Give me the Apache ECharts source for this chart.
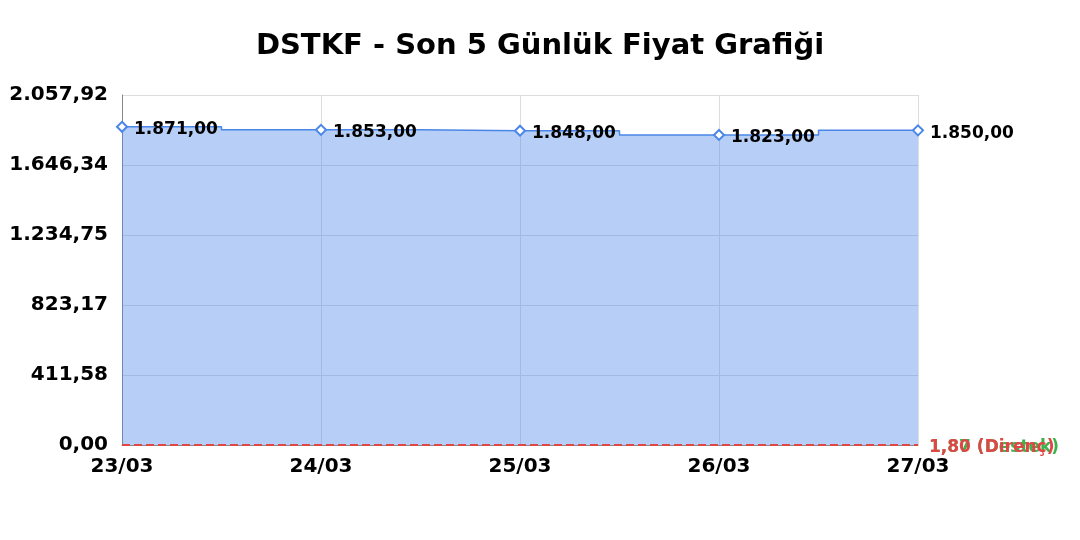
<!DOCTYPE html>
<html><head><meta charset="utf-8">
<script src="https://cdn.jsdelivr.net/npm/echarts@6/dist/echarts.min.js"></script>
<style>html,body{margin:0;padding:0;background:#fff}#c{width:1080px;height:540px}</style>
</head><body><div id="c"></div>
<script>
var categories = ['23/03','24/03','25/03','26/03','27/03'];
var prices = [1871.00, 1853.00, 1848.00, 1823.00, 1850.00];
var supportValue = 1.87;
var resistanceValue = 1.80;
var yTicks = [0, 411.584, 823.168, 1234.752, 1646.336, 2057.92];

function fmt(v){
  return Number(v).toLocaleString('tr-TR',{minimumFractionDigits:2,maximumFractionDigits:2});
}
var chart = echarts.init(document.getElementById('c'));
var FONT = 'DejaVu Sans';
chart.setOption({
  animation:false,
  title:{text:'DSTKF - Son 5 Günlük Fiyat Grafiği',left:'center',top:27,
    textStyle:{fontFamily:FONT,fontSize:29,fontWeight:'bold',color:'#000'}},
  grid:{left:122,right:162,top:95,bottom:95},
  xAxis:{type:'category',data:categories,boundaryGap:false,
    axisLine:{lineStyle:{color:'#888'}},axisTick:{show:false},
    axisLabel:{fontFamily:FONT,fontSize:20,fontWeight:'bold',color:'#000',margin:12},
    splitLine:{show:true,lineStyle:{color:'#ddd'}}},
  yAxis:{type:'value',min:0,max:yTicks[yTicks.length-1],interval:yTicks[1],
    axisLine:{show:true,lineStyle:{color:'#888'}},axisTick:{show:false},
    axisLabel:{fontFamily:FONT,fontSize:20,fontWeight:'bold',color:'#000',margin:14,formatter:fmt},
    splitLine:{show:true,lineStyle:{color:'#ddd'}}},
  series:[{type:'line',data:prices,step:'middle',
    symbol:'diamond',symbolSize:10,
    itemStyle:{color:'#fff',borderColor:'#4a86e8',borderWidth:2},
    lineStyle:{color:'#4a86e8',width:1.5},
    areaStyle:{color:'rgba(74,134,232,0.4)',opacity:1},
    label:{show:true,position:'right',distance:6,offset:[0,3],fontFamily:FONT,fontSize:17,fontWeight:'bold',color:'#000',
      formatter:function(p){return fmt(p.value);}},
    markLine:{symbol:'none',silent:true,
      data:[
        {yAxis:supportValue,lineStyle:{color:'#3cb44b',type:'dashed',width:2},
          label:{position:'end',distance:11,offset:[0,3],formatter:fmt(supportValue)+' (Destek)',color:'#3cb44b',fontFamily:FONT,fontSize:17,fontWeight:'bold'}},
        {yAxis:resistanceValue,lineStyle:{color:'#e04646',type:'dashed',width:2},
          label:{position:'end',distance:11,offset:[0,3],formatter:fmt(resistanceValue)+' (Direnç)',color:'#e04646',fontFamily:FONT,fontSize:17,fontWeight:'bold'}}
      ]}
  }]
});
</script></body></html>
